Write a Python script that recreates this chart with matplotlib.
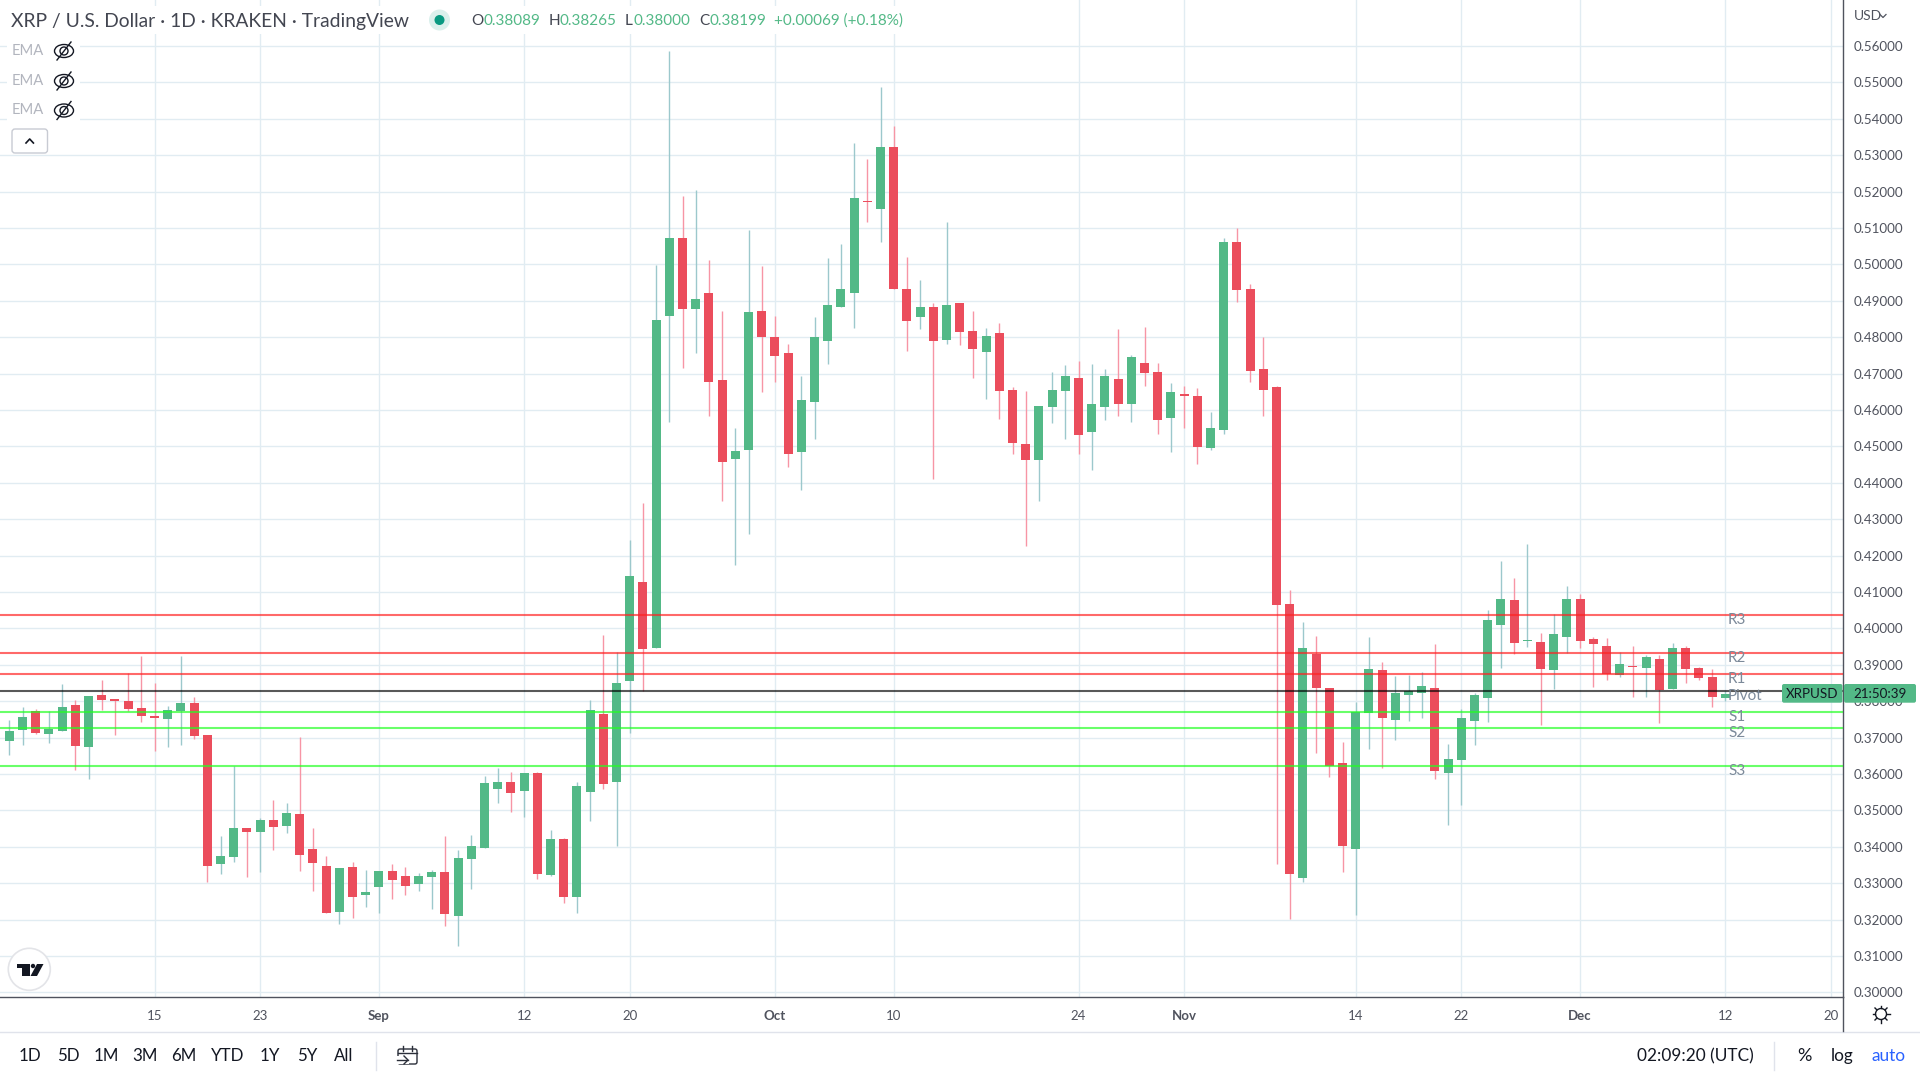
import numpy as np
import matplotlib
matplotlib.use("Agg")
import matplotlib.pyplot as plt
from matplotlib.patches import Circle, Ellipse, Polygon, FancyBboxPatch, Rectangle

plt.rcParams['font.family'] = ['Lato', 'DejaVu Sans']

# daily XRP/USD candles, in US cents, starting 4 Aug
opens = [36.90, 37.21, 37.73, 37.10, 37.18, 37.89, 36.74, 38.17, 38.06, 38.00,
         37.81, 37.59, 37.51, 37.73, 37.95, 37.07, 33.53, 33.72, 34.51, 34.40,
         34.73, 34.57, 34.90, 33.94, 33.47, 32.21, 33.44, 32.67, 32.89, 33.33,
         33.20, 32.98, 33.17, 33.31, 32.10, 33.66, 33.97, 35.59, 35.78, 35.53,
         36.03, 33.22, 34.21, 32.62, 35.50, 37.65, 35.78, 38.55, 41.28, 39.46,
         48.59, 50.71, 48.76, 49.20, 46.81, 44.66, 44.91, 48.73, 47.99, 47.55,
         44.83, 46.23, 47.90, 48.84, 49.22, 51.75, 51.53, 53.21, 49.33, 48.54,
         48.84, 47.93, 48.95, 48.18, 47.60, 48.10, 46.56, 45.07, 44.63, 46.09,
         46.53, 46.89, 45.38, 46.09, 46.86, 46.15, 47.30, 47.05, 45.79, 46.45,
         46.37, 44.96, 45.46, 50.62, 49.33, 47.11, 46.64, 40.66, 33.13, 39.29,
         38.35, 36.29, 33.93, 37.67, 38.85, 37.47, 38.16, 38.22, 38.35, 36.02,
         36.38, 37.45, 38.08, 40.08, 40.77, 39.65, 39.62, 38.85, 39.76, 40.80,
         39.70, 39.51, 38.71, 38.96, 38.90, 39.15, 38.33, 39.45, 38.90, 38.66,
         38.089]
highs = [37.48, 37.84, 37.78, 37.73, 38.47, 38.03, 38.14, 38.58, 38.06, 38.77,
         39.24, 38.50, 37.87, 39.24, 38.11, 37.07, 34.30, 36.22, 34.51, 34.79,
         35.28, 35.20, 37.01, 34.51, 33.75, 33.42, 33.58, 33.36, 33.33, 33.53,
         33.44, 33.28, 33.36, 34.30, 33.91, 34.32, 35.94, 36.16, 36.05, 36.03,
         36.05, 34.46, 34.24, 35.78, 38.03, 39.82, 39.35, 42.43, 43.43, 49.97,
         55.87, 51.89, 52.03, 50.13, 48.73, 45.51, 50.95, 49.94, 48.59, 47.80,
         46.94, 48.54, 50.16, 50.57, 53.32, 52.90, 54.86, 53.81, 50.21, 49.58,
         48.95, 51.17, 48.95, 48.73, 48.26, 48.40, 46.64, 46.53, 46.12, 47.05,
         47.22, 47.33, 47.27, 47.11, 48.21, 47.52, 48.29, 47.30, 46.75, 46.67,
         46.59, 45.93, 50.71, 51.01, 49.47, 47.99, 46.67, 41.05, 40.17, 39.78,
         38.35, 36.87, 37.97, 39.75, 39.07, 38.68, 38.71, 38.79, 39.56, 36.81,
         37.78, 38.22, 40.50, 41.84, 41.38, 42.31, 39.87, 40.39, 41.16, 40.94,
         39.76, 39.73, 39.34, 39.51, 39.26, 39.26, 39.59, 39.51, 38.93, 38.88,
         38.265]
lows = [36.52, 36.79, 37.10, 36.85, 37.18, 36.11, 35.86, 37.76, 37.07, 37.73,
        37.43, 36.63, 36.74, 36.79, 36.96, 33.03, 33.25, 33.58, 33.17, 33.31,
        33.91, 34.38, 33.33, 32.78, 32.18, 31.88, 32.04, 32.34, 32.18, 32.56,
        32.67, 32.78, 32.29, 31.82, 31.27, 32.84, 33.97, 35.20, 34.95, 34.82,
        33.11, 33.20, 32.45, 32.18, 34.71, 35.59, 34.02, 37.13, 38.28, 39.46,
        45.68, 47.16, 47.55, 45.82, 43.51, 41.75, 42.60, 46.50, 46.78, 44.42,
        43.81, 45.21, 47.27, 48.84, 48.26, 51.15, 50.60, 49.33, 47.63, 48.21,
        44.11, 47.82, 47.77, 46.89, 46.31, 45.76, 44.80, 42.25, 43.51, 45.65,
        45.19, 44.80, 44.36, 45.71, 45.84, 45.68, 46.67, 45.35, 44.83, 45.49,
        44.52, 44.91, 45.35, 48.97, 46.78, 45.82, 33.52, 32.01, 33.02, 36.57,
        35.91, 33.30, 32.12, 36.68, 36.16, 36.92, 37.45, 37.53, 35.85, 34.59,
        35.14, 36.79, 37.42, 38.90, 39.29, 39.48, 37.34, 38.33, 39.32, 39.45,
        38.38, 38.57, 38.66, 38.11, 38.11, 37.39, 38.33, 38.49, 38.57, 37.83,
        38.00]
closes = [37.18, 37.56, 37.12, 37.23, 37.84, 36.77, 38.14, 38.03, 38.00, 37.78,
          37.59, 37.54, 37.76, 37.95, 37.04, 33.47, 33.75, 34.51, 34.40, 34.73,
          34.54, 34.93, 33.77, 33.55, 32.18, 33.42, 32.62, 32.76, 33.33, 33.09,
          32.92, 33.20, 33.31, 32.15, 33.69, 34.02, 35.75, 35.78, 35.48, 36.03,
          33.25, 34.21, 32.62, 35.67, 37.76, 35.72, 38.50, 41.45, 39.43, 48.48,
          50.73, 48.78, 49.06, 46.78, 44.58, 44.88, 48.70, 47.99, 47.49, 44.80,
          46.28, 48.01, 48.89, 49.31, 51.83, 51.70, 53.21, 49.33, 48.45, 48.84,
          47.88, 48.89, 48.15, 47.66, 48.04, 46.53, 45.10, 44.63, 46.12, 46.56,
          46.92, 45.32, 46.15, 46.94, 46.17, 47.44, 47.02, 45.73, 46.50, 46.39,
          44.99, 45.51, 50.60, 49.30, 47.08, 46.56, 40.63, 33.24, 39.45, 38.35,
          36.21, 34.01, 37.69, 38.88, 37.53, 38.22, 38.27, 38.41, 36.07, 36.40,
          37.53, 38.16, 40.22, 40.80, 39.59, 39.67, 38.88, 39.84, 40.80, 39.65,
          39.56, 38.74, 39.01, 38.93, 39.21, 38.30, 39.45, 38.88, 38.63, 38.11,
          38.199]

# pivot levels, cents
level_names = ['R3', 'R2', 'R1', 'Pivot', 'S1', 'S2', 'S3']
level_values = [40.36, 39.31, 38.74, 38.27, 37.69, 37.25, 36.21]

# x axis: candle index of each date label
tick_pos = [11, 19, 28, 39, 47, 58, 67, 81, 89, 102, 110, 119, 130, 138]
tick_labels = ['15', '23', 'Sep', '12', '20', 'Oct', '10', '24', 'Nov', '14', '22', 'Dec', '12', '20']
month_labels = ['Sep', 'Oct', 'Nov', 'Dec']
price_ticks = [0.30 + 0.01 * n for n in range(27)]

ranges = ['1D', '5D', '1M', '3M', '6M', 'YTD', '1Y', '5Y', 'All']
range_x = [30, 68, 106, 145, 184, 228, 270, 307, 344]

GREEN = '#53b987'
RED = '#eb4d5c'
GRID = '#e1ecf2'
AXIS = '#50535e'

fig = plt.figure(figsize=(19.2, 10.8), dpi=100, facecolor='white')
ax = fig.add_axes([0, 1 - 997 / 1080, 1843 / 1920, 997 / 1080])

o = np.array(opens) / 100
h = np.array(highs) / 100
l = np.array(lows) / 100
c = np.array(closes) / 100
x = np.arange(len(o))
up = c >= o

ax.vlines(x[up], l[up], h[up], color='#9cc8cc', lw=1.0, zorder=2)
ax.vlines(x[~up], l[~up], h[~up], color='#f795a5', lw=1.0, zorder=2)
ax.bar(x[up], (c - o)[up], bottom=o[up], width=0.68, color=GREEN, lw=0, zorder=3)
ax.bar(x[~up], (o - c)[~up], bottom=c[~up], width=0.68, color=RED, lw=0, zorder=3)

for name, val in zip(level_names, level_values):
    if name == 'Pivot':
        col = '#000000'
    elif name.startswith('R'):
        col = '#ff2222'
    else:
        col = '#22ff22'
    ax.axhline(val / 100, color=col, lw=1.5, alpha=0.68 if name != 'Pivot' else 0.65, zorder=4)
    ax.annotate(name, xy=(130.2, val / 100), xytext=(0, -5), textcoords='offset pixels',
                ha='left', va='center', fontsize=11, color='#7c8a9a', zorder=5)

ax.set_xlim(-0.707, 138.91)
ax.set_ylim(0.29871, 0.57261)
ax.set_xticks(tick_pos)
ax.set_xticklabels(tick_labels)
for lab in ax.get_xticklabels():
    lab.set_color(AXIS)
    lab.set_fontsize(9.5)
    if lab.get_text() in month_labels:
        lab.set_fontweight('bold')
ax.tick_params(axis='x', length=0, pad=9.3)
ax.yaxis.tick_right()
ax.set_yticks(price_ticks)
ax.set_yticklabels(['%.5f' % p for p in price_ticks], color=AXIS, fontsize=9.6)
ax.tick_params(axis='y', length=0, pad=8)
ax.grid(True, color=GRID, lw=1.0, zorder=0)
ax.set_axisbelow(True)
for side in ['top', 'left']:
    ax.spines[side].set_visible(False)
ax.spines['right'].set_color(AXIS)
ax.spines['bottom'].set_color(AXIS)
ax.spines['right'].set_linewidth(1.0)
ax.spines['bottom'].set_linewidth(1.0)

# everything around the chart is placed in screen pixels
ui = fig.add_axes([0, 0, 1, 1], zorder=10)
ui.set_xlim(0, 1920)
ui.set_ylim(1080, 0)
ui.axis('off')
ui.patch.set_alpha(0)

ui.add_line(plt.Line2D([0, 1920], [1031.5, 1031.5], color='#e0e3eb', lw=1))
ui.add_line(plt.Line2D([1843, 1843], [997, 1031], color=AXIS, lw=1))

# title row
ui.add_patch(Rectangle((5, 6), 905, 28, color='white', lw=0))
ui.text(11, 21, 'XRP / U.S. Dollar · 1D · KRAKEN · TradingView', fontsize=13.85, color='#434651', va='center')
ui.add_patch(Circle((439.5, 20), 10.5, color='#daf0ec', lw=0))
ui.add_patch(Circle((439.5, 20), 5, color='#089981', lw=0))
for s, sx in zip(['O', 'H', 'L', 'C'], [471.5, 549, 624.5, 699]):
    ui.text(sx, 21, s, fontsize=11, color='#434651', va='center')
for s, sx in zip(['0.38089', '0.38265', '0.38000', '0.38199', '+0.00069 (+0.18%)'], [484, 560, 634, 710, 774.5]):
    ui.text(sx, 21, s, fontsize=11, color=GREEN, va='center')

# hidden EMA rows
for ey in [51, 81, 110.5]:
    ui.add_patch(Rectangle((7, ey - 12), 73, 24, color='white', lw=0))
    ui.text(11.5, ey, 'EMA', fontsize=10.6, color='#b2b5be', va='center')
    ui.add_patch(Ellipse((64, ey), 19, 13, fill=False, ec='#131722', lw=1))
    ui.add_patch(Circle((64, ey), 4, fill=False, ec='#131722', lw=1))
    ui.add_line(plt.Line2D([57, 71], [ey + 9, ey - 9], color='#131722', lw=1))
ui.add_patch(FancyBboxPatch((12, 129), 35.5, 24, boxstyle='round,pad=0,rounding_size=3', fc='white', ec='#c8cbd3', lw=1))
ui.add_line(plt.Line2D([26, 29.7, 33.4], [143, 139, 143], color='#131722', lw=1.2))

ui.text(1854, 16, 'USD', fontsize=10, color=AXIS, va='center')
ui.add_line(plt.Line2D([1880, 1883, 1886], [14.5, 17.5, 14.5], color=AXIS, lw=0.9))

# last price tags
ui.add_patch(FancyBboxPatch((1782, 684), 60.5, 18.7, boxstyle='round,pad=0,rounding_size=2', fc=GREEN, ec='none'))
ui.add_patch(FancyBboxPatch((1844, 684), 72, 18.7, boxstyle='round,pad=0,rounding_size=2', fc=GREEN, ec='none'))
ui.text(1812, 693.7, 'XRPUSD', fontsize=9.6, color='#131722', ha='center', va='center')
ui.text(1880, 693.7, '21:50:39', fontsize=9.6, color='#131722', ha='center', va='center')

# tradingview badge
ui.add_patch(Circle((29.3, 969.3), 21, fc='white', ec='#e3e4e8', lw=1.2))
ui.add_patch(Polygon([(16.5, 964), (30, 964), (30, 976), (22, 976), (22, 968), (16.5, 968)], color='#131722', lw=0))
ui.add_patch(Circle((33, 966), 2.2, color='#131722', lw=0))
ui.add_patch(Polygon([(37, 964), (43.5, 964), (37, 976), (30.5, 976)], color='#131722', lw=0))

# settings gear
ui.add_patch(Circle((1881, 1014), 5.5, fill=False, ec='#131722', lw=1))
for a in np.deg2rad(np.arange(0, 360, 45)):
    ui.add_line(plt.Line2D([1881 + 6 * np.cos(a), 1881 + 8.5 * np.cos(a)],
                           [1014 + 6 * np.sin(a), 1014 + 8.5 * np.sin(a)], color='#131722', lw=1))

# bottom toolbar
for s, sx in zip(ranges, range_x):
    ui.text(sx, 1056, s, fontsize=12.2, color='#131722', ha='center', va='center')
ui.add_line(plt.Line2D([375.5, 375.5], [1042, 1070], color='#e0e3eb', lw=1))
ui.add_line(plt.Line2D([1774, 1774], [1042, 1070], color='#e0e3eb', lw=1))
ui.add_patch(FancyBboxPatch((398, 1049), 19, 15, boxstyle='round,pad=0,rounding_size=2', fill=False, ec='#2a2e39', lw=1))
ui.add_line(plt.Line2D([398, 417], [1053, 1053], color='#2a2e39', lw=1))
ui.add_line(plt.Line2D([403, 403], [1046, 1051], color='#2a2e39', lw=1))
ui.add_line(plt.Line2D([412, 412], [1046, 1051], color='#2a2e39', lw=1))
ui.add_patch(Rectangle((395, 1056), 14, 8, color='white', lw=0))
ui.add_line(plt.Line2D([397, 408], [1060, 1060], color='#2a2e39', lw=1))
ui.add_line(plt.Line2D([404, 408, 404], [1056, 1060, 1064], color='#2a2e39', lw=1))

ui.text(1695, 1056, '02:09:20 (UTC)', fontsize=12.4, color='#131722', ha='center', va='center')
ui.text(1804, 1056, '%', fontsize=13, color='#131722', ha='center', va='center')
ui.text(1842, 1056, 'log', fontsize=12.4, color='#131722', ha='center', va='center')
ui.text(1889, 1056, 'auto', fontsize=12.4, color='#2962ff', ha='center', va='center')

fig.savefig('out.png', dpi=100, facecolor='white')
